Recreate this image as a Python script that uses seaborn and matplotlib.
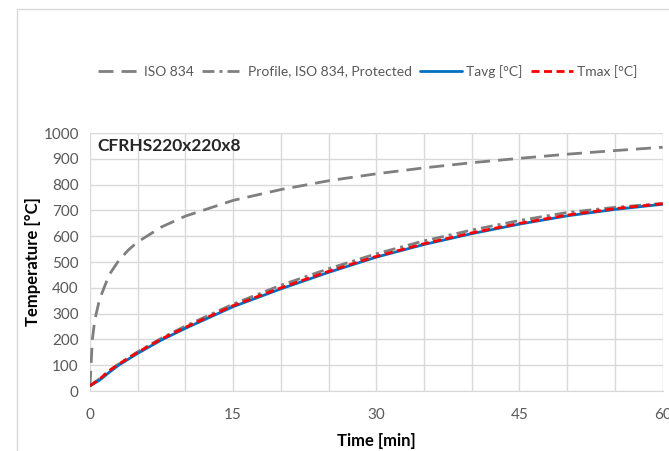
import pandas as pd
import seaborn as sns
import matplotlib.pyplot as plt

# values
t_iso = [0, 0.25, 0.5, 1, 2, 3, 4, 5, 7.5, 10, 15, 20, 25, 30, 35, 40, 45, 50, 55, 60]
T_iso = [20, 200, 275, 355, 450, 505, 546, 578, 636, 678, 739, 781, 815, 842, 865, 885, 902, 918, 932, 945]

t_prof = [0, 1, 2, 3, 5, 7.5, 10, 15, 20, 25, 30, 35, 40, 45, 50, 55, 60]
T_prof = [20, 48, 78, 105, 152, 205, 252, 337, 410, 474, 532, 582, 624, 661, 692, 712, 727]

t_steel = [0, 1, 2, 3, 5, 7.5, 10, 15, 20, 25, 30, 35, 40, 45, 50, 55, 60]
T_avg = [20, 42, 72, 100, 146, 198, 243, 327, 396, 460, 519, 568, 610, 647, 679, 704, 724]
T_max = [20, 46, 78, 104, 150, 202, 247, 331, 400, 464, 522, 571, 613, 650, 682, 707, 726]

sns.set_style("white")
plt.rcParams['font.family'] = ['Lato', 'DejaVu Sans']

fig = plt.figure(figsize=(6.69, 4.51), dpi=100)
ax = fig.add_axes([0.1345, 0.133, 0.856, 0.572])

# outer chart border
fig.patches.append(plt.Rectangle((0.025, -0.01), 0.99, 0.99, transform=fig.transFigure,
                                 fill=False, edgecolor='#d9d9d9', lw=1))

sns.lineplot(x=t_iso, y=T_iso, ax=ax, color='#7f7f7f', lw=2, label='ISO 834')
ax.lines[-1].set_dashes([5.4, 2.9])
sns.lineplot(x=t_prof, y=T_prof, ax=ax, color='#7f7f7f', lw=2, label='Profile, ISO 834, Protected')
ax.lines[-1].set_dashes([4.3, 1.8, 1.1, 1.8])
sns.lineplot(x=t_steel, y=T_avg, ax=ax, color='#0070c0', lw=2, label='Tavg [°C]')
sns.lineplot(x=t_steel, y=T_max, ax=ax, color='#ff0000', lw=2, label='Tmax [°C]')
ax.lines[-1].set_dashes([2.9, 1.6])

ax.set_xlim(0, 60)
ax.set_ylim(0, 1000)
ax.set_xticks([0, 15, 30, 45, 60])
ax.set_xticks(range(0, 61, 5), minor=True)
ax.set_yticks(range(0, 1001, 100))
ax.grid(True, which='both', color='#d9d9d9', lw=1)
ax.set_axisbelow(True)
for s in ax.spines.values():
    s.set_visible(False)
ax.spines['bottom'].set_visible(True)
ax.spines['bottom'].set_color('#d9d9d9')
ax.tick_params(axis='x', which='major', length=5, color='#d9d9d9', labelsize=11,
               labelcolor='#595959', pad=7)
ax.tick_params(axis='x', which='minor', length=0)
ax.tick_params(axis='y', length=0, labelsize=11, labelcolor='#595959', pad=8)

ax.set_xlabel('Time [min]', fontsize=12, fontweight='bold', color='black', labelpad=8)
ax.set_ylabel('Temperature [°C]', fontsize=12, fontweight='bold', color='black', labelpad=2)
ax.text(0.013, 0.95, 'CFRHS220x220x8', transform=ax.transAxes, fontsize=12.5,
        fontweight='bold', va='center', ha='left')

leg = ax.legend(loc='center', bbox_to_anchor=(0.485, 1.24), ncol=4, frameon=False,
                fontsize=10, handlelength=3.0, columnspacing=0.6, handletextpad=0.3)
for txt in leg.get_texts():
    txt.set_color('#595959')

fig.savefig('out.png', dpi=100)
